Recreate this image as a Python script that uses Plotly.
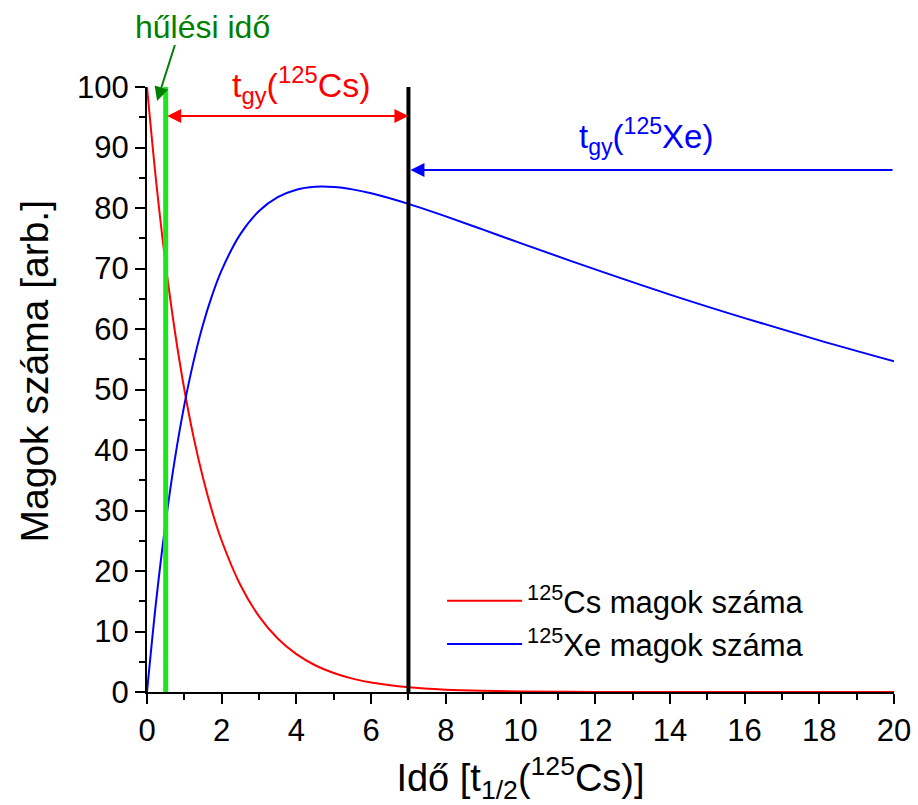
import plotly.graph_objects as go

# time in units of t1/2(125Cs)
t = [0, 0.25, 0.5, 0.75, 1, 1.25, 1.5, 1.75, 2, 2.5, 3, 3.5, 4, 4.5, 5, 5.5, 6,
     7, 8, 9, 10, 12, 14, 16, 18, 20]
cs_vals = [100, 84.09, 70.71, 59.46, 50.0, 42.04, 35.36, 29.73, 25.0, 17.68, 12.5,
           8.84, 6.25, 4.42, 3.13, 2.21, 1.56, 0.78, 0.39, 0.2, 0.1, 0.02, 0.01,
           0.0, 0.0, 0.0]
xe_vals = [0, 15.3, 28.04, 38.65, 47.45, 54.73, 60.75, 65.69, 69.74, 75.68, 79.49,
           81.78, 83.02, 83.5, 83.47, 83.08, 82.43, 80.68, 78.61, 76.42, 74.2,
           69.85, 65.69, 61.8, 58.12, 54.66]
series_names = ["<sup>125</sup>Cs magok száma", "<sup>125</sup>Xe magok száma"]
x_ticks = [0, 2, 4, 6, 8, 10, 12, 14, 16, 18, 20]
y_ticks = [0, 10, 20, 30, 40, 50, 60, 70, 80, 90, 100]
cooling_time = 0.5
measure_time = 7
cs_arrow_y = 95.2
xe_arrow_y = 86.3

FONT = "Liberation Sans, Arial, sans-serif"

fig = go.Figure()
fig.add_trace(go.Scatter(x=t, y=cs_vals, mode="lines", name=series_names[0],
                         line=dict(color="#ff0000", width=2, shape="spline"),
                         cliponaxis=False))
fig.add_trace(go.Scatter(x=t, y=xe_vals, mode="lines", name=series_names[1],
                         line=dict(color="#0000ff", width=2, shape="spline"),
                         cliponaxis=False))

# vertical lines
fig.add_shape(type="line", x0=cooling_time, x1=cooling_time, y0=0, y1=100,
              xref="x", yref="y", line=dict(color="#1ee61e", width=5))
fig.add_shape(type="line", x0=measure_time, x1=measure_time, y0=0, y1=100,
              xref="x", yref="y", line=dict(color="#000000", width=4))

# red double arrow
fig.add_annotation(x=measure_time, y=cs_arrow_y, ax=cooling_time, ay=cs_arrow_y,
                   xref="x", yref="y", axref="x", ayref="y", text="",
                   showarrow=True, arrowhead=2, startarrowhead=2,
                   arrowside="end+start", arrowsize=1.4, arrowwidth=2,
                   arrowcolor="#ff0000", standoff=0, startstandoff=0)
# blue arrow
fig.add_annotation(x=measure_time, y=xe_arrow_y, ax=20, ay=xe_arrow_y,
                   xref="x", yref="y", axref="x", ayref="y", text="",
                   showarrow=True, arrowhead=2, arrowsize=1.4, arrowwidth=2,
                   arrowcolor="#0000ff", standoff=2)
# green arrow
fig.add_annotation(x=0.27, y=97.7, ax=0.76, ay=107.2,
                   xref="x", yref="y", axref="x", ayref="y", text="",
                   showarrow=True, arrowhead=2, arrowsize=1.4, arrowwidth=2,
                   arrowcolor="#008000", standoff=0)

# labels
fig.add_annotation(x=1.486, y=1.099, xref="x", yref="paper", yanchor="middle",
                   text="hűlési idő", showarrow=False,
                   font=dict(family=FONT, size=32, color="#008000"))
fig.add_annotation(x=4.14, y=1.004, xref="x", yref="paper", yanchor="middle",
                   text="t<sub>gy</sub>(<sup>125</sup>Cs)", showarrow=False,
                   font=dict(family=FONT, size=34, color="#ff0000"))
fig.add_annotation(x=13.36, y=91.8, xref="x", yref="y", yanchor="middle",
                   text="t<sub>gy</sub>(<sup>125</sup>Xe)", showarrow=False,
                   font=dict(family=FONT, size=33, color="#0000ff"))
# y axis title
fig.add_annotation(x=-0.1513, y=0.5298, xref="paper", yref="paper",
                   xanchor="center", yanchor="middle", textangle=-90,
                   text="Magok száma [arb.]", showarrow=False,
                   font=dict(family=FONT, size=39, color="black"))

axis_common = dict(showline=True, linecolor="black", linewidth=2, ticks="outside",
                   ticklen=10, tickwidth=2, tickcolor="black", showgrid=False,
                   zeroline=False, automargin=False,
                   tickfont=dict(family=FONT, size=31, color="black"))

fig.update_xaxes(range=[0, 20], tickvals=x_ticks, ticktext=[str(v) for v in x_ticks],
                 minor=dict(ticks="outside", ticklen=6, tickwidth=2, dtick=1,
                            tickcolor="black"),
                 title=dict(text="Idő [t<sub>1/2</sub>(<sup>125</sup>Cs)]",
                            font=dict(family=FONT, size=38, color="black"), standoff=22),
                 **axis_common)
fig.update_yaxes(range=[0, 100], tickvals=y_ticks, ticktext=[str(v) for v in y_ticks],
                 minor=dict(ticks="outside", ticklen=6, tickwidth=2, dtick=5,
                            tickcolor="black"),
                 **axis_common)

fig.update_layout(
    width=918, height=805,
    margin=dict(l=147, r=24, t=87, b=113),
    plot_bgcolor="white", paper_bgcolor="white",
    font=dict(family=FONT, color="black"),
    legend=dict(x=0.395, y=0.195, xanchor="left", yanchor="top",
                bgcolor="rgba(0,0,0,0)", font=dict(family=FONT, size=31, color="black"),
                itemwidth=75, tracegroupgap=0),
)

fig.write_html("out.html")
